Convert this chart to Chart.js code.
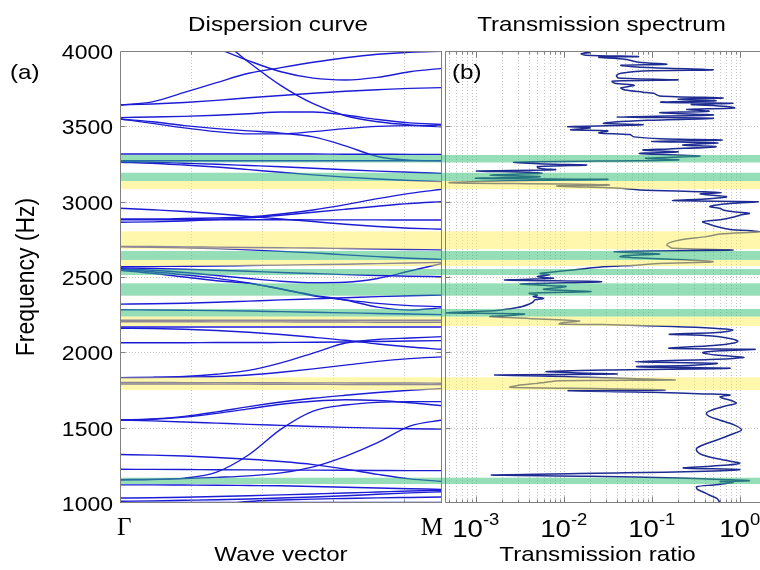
<!DOCTYPE html>
<html>
<head>
<meta charset="utf-8">
<script src="https://cdn.jsdelivr.net/npm/chart.js@4.4.1/dist/chart.umd.min.js"></script>
<style>
  html, body { margin: 0; padding: 0; background: #fff; overflow: hidden; }
  #wrap { position: relative; width: 760px; height: 570px; }
  #disp { position: absolute; left: 0; top: 0; }
  #trans { position: absolute; left: 443px; top: 0; }
</style>
</head>
<body>
<div id="wrap">
  <canvas id="disp" width="443" height="570"></canvas>
  <canvas id="trans" width="317" height="570"></canvas>
</div>
<script>
// ---- frequency axis (shared) ----
const freqTicks = [1000, 1500, 2000, 2500, 3000, 3500, 4000];

// ---- band gaps (Hz) ----
const greenBands = [[3260, 3310], [3137, 3192], [2613, 2673], [2513, 2553], [2376, 2458], [2237, 2288], [1126, 1168]];
const yellowBands = [[3084, 3137], [2684, 2803], [2573, 2613], [2175, 2237], [1750, 1834]];

// ---- dispersion curve: wave vector samples from Γ (0) to M (1) ----
const waveVector = [0, 0.1, 0.2, 0.3, 0.4, 0.5, 0.6, 0.7, 0.8, 0.9, 1];
const waveVectorLabels = ['Γ', 'M'];

// frequency of each branch (Hz) at the wave vector samples; null = branch not yet present
const dispersionBranches = [
  [null, null, null, 4100, 3925, 3770, 3650, 3570, 3530, 3510, 3503],
  [null, null, null, 4020, 3935, 3862, 3820, 3808, 3825, 3862, 3885],
  [3642, 3662, 3725, 3790, 3852, 3890, 3925, 3955, 3978, 3992, 3998],
  [3642, 3648, 3658, 3672, 3690, 3705, 3720, 3733, 3743, 3752, 3757],
  [3558, 3562, 3566, 3574, 3584, 3595, 3595, 3575, 3545, 3523, 3513],
  [3549, 3520, 3490, 3465, 3450, 3450, 3465, 3485, 3500, 3505, 3497],
  [3549, 3530, 3505, 3485, 3470, 3455, 3430, 3370, 3300, 3276, 3272],
  [3316, 3316, 3316, 3316, 3316, 3316, 3316, 3315, 3315, 3314, 3314],
  [3272, 3272, 3272, 3272, 3272, 3272, 3272, 3272, 3272, 3272, 3272],
  [3268, 3262, 3255, 3248, 3240, 3232, 3222, 3212, 3203, 3195, 3188],
  [3262, 3255, 3243, 3230, 3213, 3195, 3178, 3163, 3150, 3140, 3133],
  [2956, 2946, 2935, 2920, 2902, 2885, 2868, 2850, 2835, 2824, 2817],
  [2885, 2885, 2888, 2892, 2898, 2918, 2945, 2980, 3020, 3055, 3082],
  [2863, 2866, 2872, 2882, 2893, 2910, 2930, 2950, 2970, 2988, 3000],
  [2880, 2880, 2880, 2880, 2880, 2880, 2879, 2879, 2879, 2878, 2878],
  [2703, 2702, 2700, 2698, 2696, 2694, 2692, 2689, 2686, 2683, 2680],
  [2700, 2697, 2693, 2688, 2680, 2670, 2660, 2647, 2635, 2624, 2617],
  [2568, 2569, 2571, 2573, 2576, 2579, 2582, 2585, 2589, 2593, 2597],
  [2560, 2556, 2551, 2545, 2538, 2530, 2523, 2516, 2510, 2505, 2502],
  [2555, 2545, 2530, 2510, 2490, 2472, 2462, 2465, 2490, 2540, 2590],
  [2550, 2535, 2515, 2491, 2460, 2420, 2375, 2348, 2325, 2310, 2303],
  [2545, 2525, 2500, 2475, 2458, 2420, 2380, 2347, 2300, 2280, 2295],
  [2320, 2322, 2326, 2332, 2340, 2348, 2355, 2362, 2370, 2376, 2380],
  [2283, 2281, 2279, 2277, 2274, 2270, 2266, 2262, 2258, 2254, 2250],
  [2213, 2213, 2213, 2213, 2213, 2213, 2213, 2213, 2213, 2213, 2213],
  [2203, 2203, 2203, 2202, 2202, 2202, 2201, 2201, 2200, 2200, 2200],
  [2168, 2168, 2168, 2168, 2168, 2168, 2168, 2168, 2168, 2168, 2168],
  [2160, 2158, 2153, 2145, 2133, 2118, 2100, 2080, 2055, 2035, 2020],
  [2064, 2064, 2064, 2065, 2065, 2066, 2067, 2069, 2072, 2075, 2078],
  [1832, 1834, 1840, 1855, 1880, 1930, 1995, 2062, 2085, 2095, 2104],
  [1832, 1833, 1836, 1840, 1850, 1868, 1890, 1915, 1940, 1958, 1970],
  [1800, 1800, 1799, 1799, 1798, 1798, 1797, 1797, 1796, 1796, 1795],
  [1790, 1790, 1790, 1789, 1789, 1788, 1788, 1787, 1787, 1786, 1786],
  [1551, 1558, 1575, 1605, 1640, 1670, 1695, 1715, 1733, 1748, 1760],
  [1551, 1556, 1570, 1595, 1625, 1655, 1675, 1685, 1680, 1665, 1645],
  [1551, 1545, 1538, 1530, 1522, 1515, 1508, 1502, 1497, 1493, 1490],
  [1153, 1156, 1165, 1205, 1320, 1490, 1610, 1650, 1668, 1673, 1673],
  [1155, 1157, 1162, 1170, 1180, 1200, 1240, 1310, 1400, 1510, 1551],
  [1322, 1318, 1312, 1302, 1290, 1275, 1255, 1225, 1190, 1160, 1143],
  [1224, 1223, 1222, 1221, 1220, 1219, 1218, 1217, 1216, 1215, 1215],
  [1120, 1120, 1119, 1118, 1116, 1114, 1110, 1105, 1100, 1095, 1090],
  [1033, 1035, 1038, 1043, 1048, 1054, 1060, 1066, 1073, 1080, 1085],
  [1012, 1014, 1018, 1022, 1027, 1033, 1040, 1048, 1058, 1067, 1075],
  [null, null, null, 985, 1010, 1020, 1026, 1030, 1034, 1037, 1040],
  [1003, 1003, 1003, 1003, 1003, 1003, 1003, 1003, 1003, 1003, 1003]
];

// ---- transmission spectrum: [frequency (Hz), transmission ratio] ----
const spectrumPoints = [
  [3998, 0.0166], [3990, 0.020], [3982, 0.0158], [3972, 0.0178], [3963, 0.0708], [3958, 0.0251],
  [3945, 0.050], [3925, 0.0708], [3912, 0.148], [3905, 0.0447], [3890, 0.0891], [3875, 0.50],
  [3868, 0.0794], [3852, 0.0447], [3838, 0.0398], [3820, 0.0417], [3808, 0.20], [3800, 0.0355],
  [3786, 0.038], [3772, 0.0631], [3755, 0.0447], [3741, 0.050], [3727, 0.0794], [3719, 0.105],
  [3702, 0.123], [3688, 0.646], [3680, 0.20], [3670, 0.537], [3660, 0.126], [3653, 0.832],
  [3645, 0.282], [3632, 0.708], [3621, 0.871], [3612, 0.251], [3600, 0.447], [3590, 0.123],
  [3575, 0.50], [3562, 0.0398], [3553, 0.50], [3540, 0.0891], [3520, 0.0282], [3510, 0.0794],
  [3498, 0.0112], [3490, 0.020], [3477, 0.012], [3470, 0.0316], [3456, 0.0251], [3445, 0.0562],
  [3430, 0.0631], [3418, 0.126], [3409, 0.631], [3400, 0.10], [3390, 0.562], [3376, 0.224],
  [3365, 0.537], [3350, 0.158], [3343, 0.0794], [3330, 0.20], [3320, 0.0724], [3303, 0.355],
  [3288, 0.0851], [3277, 0.20], [3262, 0.00275], [3250, 0.006], [3243, 0.0182], [3232, 0.005],
  [3221, 0.00537], [3212, 0.008], [3204, 0.00102], [3195, 0.004], [3188, 0.00562], [3177, 0.00145],
  [3166, 0.00537], [3155, 0.001], [3148, 0.0316], [3139, 0.00224], [3126, 0.0005], [3118, 0.010],
  [3111, 0.0331], [3104, 0.00832], [3089, 0.0437], [3078, 0.0724], [3066, 0.355], [3060, 0.617],
  [3051, 0.355], [3033, 0.708], [3020, 0.45], [3007, 0.174], [3000, 1.62], [2989, 0.832],
  [2978, 0.55], [2967, 0.457], [2955, 0.60], [2945, 0.646], [2932, 0.90], [2923, 1.29],
  [2910, 1.0], [2896, 0.832], [2880, 0.60], [2867, 0.38], [2850, 0.45], [2830, 0.589],
  [2816, 0.776], [2801, 1.70], [2785, 0.60], [2768, 0.417], [2746, 0.209], [2728, 0.16],
  [2713, 0.148], [2700, 0.16], [2690, 0.174], [2679, 0.832], [2668, 0.038], [2653, 0.123],
  [2642, 0.05], [2635, 0.0437], [2624, 0.0871], [2602, 0.50], [2590, 0.12], [2580, 0.0724],
  [2565, 0.025], [2547, 0.0129], [2535, 0.008], [2524, 0.00537], [2514, 0.00692], [2502, 0.005],
  [2491, 0.00759], [2480, 0.00214], [2469, 0.0269], [2454, 0.00324], [2445, 0.006], [2436, 0.0107],
  [2418, 0.00589], [2403, 0.0204], [2392, 0.00407], [2380, 0.005], [2370, 0.0045], [2358, 0.00589],
  [2348, 0.00468], [2335, 0.0045], [2321, 0.00407], [2303, 0.00331], [2290, 0.0025], [2277, 0.00174],
  [2263, 0.000447], [2255, 0.00355], [2245, 0.0025], [2237, 0.00145], [2225, 0.004], [2208, 0.0151],
  [2198, 0.010], [2188, 0.00891], [2184, 0.0275], [2171, 0.174], [2160, 0.50], [2149, 0.832],
  [2140, 0.75], [2130, 0.50], [2120, 0.158], [2112, 0.40], [2104, 0.589], [2090, 0.80],
  [2075, 0.95], [2064, 0.891], [2045, 0.50], [2027, 0.158], [2020, 1.48], [2010, 0.60],
  [1998, 0.38], [1982, 0.537], [1967, 1.12], [1954, 0.55], [1938, 0.0646], [1927, 0.55],
  [1915, 0.30], [1905, 0.0676], [1894, 0.776], [1883, 0.0302], [1872, 0.00631], [1862, 0.020],
  [1856, 0.0398], [1850, 0.00166], [1840, 0.010], [1834, 0.0182], [1821, 0.105], [1816, 0.182],
  [1812, 0.00891], [1800, 0.006], [1794, 0.00501], [1780, 0.003], [1768, 0.00245], [1758, 0.030],
  [1750, 0.141], [1746, 0.0112], [1735, 0.10], [1724, 0.40], [1717, 0.776], [1705, 0.60],
  [1695, 0.646], [1680, 0.80], [1662, 0.912], [1645, 0.70], [1628, 0.55], [1610, 0.45],
  [1595, 0.417], [1575, 0.45], [1551, 0.589], [1520, 0.85], [1485, 1.05], [1455, 0.80],
  [1418, 0.55], [1390, 0.40], [1363, 0.324], [1340, 0.33], [1319, 0.38], [1290, 0.60],
  [1263, 1.0], [1245, 0.50], [1232, 0.229], [1222, 1.0], [1210, 0.40], [1200, 0.05],
  [1186, 0.00151], [1178, 0.020], [1166, 0.20], [1155, 0.70], [1148, 1.29], [1142, 0.60],
  [1138, 0.85], [1130, 0.70], [1120, 0.50], [1108, 0.324], [1090, 0.33], [1075, 0.38],
  [1053, 0.45], [1030, 0.55], [1009, 0.589], [1000, 0.62]
];
const ratioDecades = [0.001, 0.01, 0.1, 1];
const ratioMin = 0.000447, ratioMax = 1.70;

// ---- styling ----
const SANS = "'Liberation Sans', Arial, sans-serif";
const SERIF = "'Liberation Serif', 'Times New Roman', serif";
const BRANCH_BLUE = 'rgb(28,28,214)';
const SPECTRUM_BLUE = 'rgb(30,44,145)';
const GREEN = 'rgba(46,190,112,0.5)';
const YELLOW = 'rgba(255,242,90,0.5)';
const FRAME = '#808080';
const GRID = '#c4c4c4';
const TEXT_STRETCH = 1.15;   // figure lettering is set slightly wide
const kGrid = [0.2205, 0.441, 0.6615, 0.882];

Chart.defaults.color = '#000';
Chart.defaults.font.family = SANS;

// minor/major positions on the log axis
const logGrid = [];
for (let e = -4; e <= 0; e++) {
  for (let d = 1; d <= 9; d++) {
    const v = d * Math.pow(10, e);
    if (v > ratioMin && v < ratioMax) logGrid.push({ v, major: d === 1 });
  }
}

// draw one wide-set label; (x, y) is the anchor, rotation in radians
function wideText(ctx, text, x, y, size, align, opt = {}) {
  ctx.save();
  ctx.fillStyle = '#000';
  ctx.font = size + 'px ' + (opt.family || SANS);
  ctx.textAlign = align;
  ctx.textBaseline = opt.baseline || 'alphabetic';
  ctx.translate(x, y);
  ctx.scale(opt.stretch || TEXT_STRETCH, 1);
  if (opt.rotate) ctx.rotate(opt.rotate);
  ctx.fillText(text, 0, 0);
  ctx.restore();
}

// semi-transparent band-gap strips over the curves
const bandsPlugin = {
  id: 'bands',
  afterDatasetsDraw(chart, args, opts) {
    const { ctx, chartArea: a, scales: { y } } = chart;
    const left = opts.fromLeftEdge ? 0 : a.left;
    const right = opts.toRightEdge ? chart.width : a.right;
    ctx.save();
    const paint = (bands, color) => {
      ctx.fillStyle = color;
      for (const [lo, hi] of bands) {
        const top = y.getPixelForValue(hi), bottom = y.getPixelForValue(lo);
        ctx.fillRect(left, top, right - left, bottom - top);
      }
    };
    paint(greenBands, GREEN);
    paint(yellowBands, YELLOW);
    ctx.restore();
  }
};

// dotted grid
const gridPlugin = {
  id: 'dottedGrid',
  beforeDatasetsDraw(chart, args, opts) {
    const { ctx, chartArea: a, scales: { x, y } } = chart;
    ctx.save();
    ctx.lineWidth = 1;
    ctx.setLineDash([1, 2]);
    ctx.strokeStyle = GRID;
    ctx.beginPath();
    for (const f of freqTicks) {
      if (f <= freqTicks[0] || f >= freqTicks[freqTicks.length - 1]) continue;
      const py = Math.round(y.getPixelForValue(f)) + 0.5;
      ctx.moveTo(a.left, py); ctx.lineTo(a.right, py);
    }
    for (const t of opts.lines) {
      const px = Math.round(x.getPixelForValue(t.v)) + 0.5;
      ctx.moveTo(px, a.top); ctx.lineTo(px, a.bottom);
    }
    ctx.stroke();
    ctx.restore();
  }
};

// axis frame with inward tick marks
const framePlugin = {
  id: 'frame',
  afterDraw(chart, args, opts) {
    const { ctx, chartArea: a, scales: { x, y } } = chart;
    const L = a.left + 0.5, R = a.right - 0.5, T = a.top + 0.5, B = a.bottom - 0.5;
    const edge = opts.closeRight ? R : chart.width;
    ctx.save();
    ctx.strokeStyle = FRAME;
    ctx.lineWidth = 1;
    ctx.beginPath();
    ctx.moveTo(L, T); ctx.lineTo(L, B);
    ctx.moveTo(L, T); ctx.lineTo(edge, T);
    ctx.moveTo(L, B); ctx.lineTo(edge, B);
    if (opts.closeRight) { ctx.moveTo(R, T); ctx.lineTo(R, B); }
    for (const f of freqTicks) {
      if (f <= freqTicks[0] || f >= freqTicks[freqTicks.length - 1]) continue;
      const py = Math.round(y.getPixelForValue(f)) + 0.5;
      ctx.moveTo(L, py); ctx.lineTo(L + 5, py);
      if (opts.closeRight) { ctx.moveTo(R, py); ctx.lineTo(R - 5, py); }
    }
    for (const t of opts.ticks) {
      const px = Math.round(x.getPixelForValue(t.v)) + 0.5;
      const len = t.major ? 6 : 3;
      ctx.moveTo(px, T); ctx.lineTo(px, T + len);
      ctx.moveTo(px, B); ctx.lineTo(px, B - len);
    }
    ctx.stroke();
    ctx.restore();
  }
};

// panel title, panel letter and x-axis title
const panelTextPlugin = {
  id: 'panelText',
  afterDraw(chart, args, opts) {
    const { ctx, chartArea: a } = chart;
    const cx = (a.left + a.right) / 2;
    wideText(ctx, opts.title, cx + (opts.titleShift || 0), 31, 21, 'center');
    wideText(ctx, opts.letter, opts.letterX, 79, 21, 'left');
    wideText(ctx, opts.xTitle, cx + (opts.xTitleShift || 0), 561, 21, 'center');
  }
};

// frequency labels, axis title, and Γ / M on the dispersion panel
const dispersionAxisPlugin = {
  id: 'dispersionAxis',
  afterDraw(chart) {
    const { ctx, chartArea: a, scales: { x, y } } = chart;
    for (const f of freqTicks) {
      wideText(ctx, String(f), a.left - 7, y.getPixelForValue(f) + 8, 20, 'right');
    }
    wideText(ctx, 'Frequency (Hz)', 27, (a.top + a.bottom) / 2, 23, 'center',
      { rotate: -Math.PI / 2, baseline: 'middle' });
    wideText(ctx, waveVectorLabels[0], x.getPixelForValue(x.min) - 3, 535, 25, 'left',
      { family: SERIF, stretch: 1 });
    wideText(ctx, waveVectorLabels[1], x.getPixelForValue(x.max) + 1, 535, 25, 'right',
      { family: SERIF, stretch: 1 });
  }
};

// power-of-ten labels on the log axis
const decadeLabelPlugin = {
  id: 'decadeLabels',
  afterDraw(chart) {
    const { ctx, scales: { x } } = chart;
    for (const v of ratioDecades) {
      const px = x.getPixelForValue(v);
      const exp = String(Math.round(Math.log10(v)));
      ctx.save();
      ctx.font = '24px ' + SANS;
      const wb = ctx.measureText('10').width * TEXT_STRETCH;
      ctx.font = '16px ' + SANS;
      const we = ctx.measureText(exp).width * TEXT_STRETCH;
      ctx.restore();
      const start = px - (wb + we) / 2;
      wideText(ctx, '10', start, 537, 24, 'left');
      wideText(ctx, exp, start + wb, 525, 16, 'left');
    }
  }
};

// ---- left panel: dispersion curve ----
new Chart(document.getElementById('disp'), {
  type: 'line',
  data: {
    datasets: dispersionBranches.map(freqs => ({
      data: freqs.map((f, i) => ({ x: waveVector[i], y: f })).filter(p => p.y !== null),
      borderColor: BRANCH_BLUE,
      borderWidth: 1.4,
      pointRadius: 0,
      fill: false,
      cubicInterpolationMode: 'monotone'
    }))
  },
  options: {
    responsive: false,
    animation: false,
    layout: { autoPadding: false, padding: { top: 51, left: 0, right: 1, bottom: 0 } },
    plugins: {
      legend: { display: false },
      tooltip: { enabled: false },
      bands: { fromLeftEdge: false, toRightEdge: true },
      dottedGrid: { lines: kGrid.map(v => ({ v })) },
      frame: { closeRight: true, ticks: kGrid.map(v => ({ v, major: false })) },
      panelText: { title: 'Dispersion curve', letter: '(a)', letterX: 10, titleShift: -3,
                   xTitle: 'Wave vector', xTitleShift: 0 }
    },
    scales: {
      x: {
        type: 'linear', min: 0, max: 1,
        grid: { display: false, drawTicks: false },
        border: { display: false },
        afterFit(s) { s.height = 67; },
        ticks: { display: false }
      },
      y: {
        type: 'linear', min: 1000, max: 4000,
        grid: { display: false, drawTicks: false },
        border: { display: false },
        afterFit(s) { s.width = 120; },
        ticks: { display: false }
      }
    }
  },
  plugins: [gridPlugin, bandsPlugin, framePlugin, panelTextPlugin, dispersionAxisPlugin]
});

// ---- right panel: transmission spectrum ----
new Chart(document.getElementById('trans'), {
  type: 'scatter',
  data: {
    datasets: [{
      data: spectrumPoints.map(([f, t]) => ({ x: t, y: f })),
      showLine: true,
      borderColor: SPECTRUM_BLUE,
      borderWidth: 1.5,
      pointRadius: 0,
      tension: 0.3,
      fill: false
    }]
  },
  options: {
    responsive: false,
    animation: false,
    layout: { autoPadding: false, padding: { top: 51, left: 0, right: 0, bottom: 0 } },
    plugins: {
      legend: { display: false },
      tooltip: { enabled: false },
      bands: { fromLeftEdge: true, toRightEdge: true },
      dottedGrid: { lines: logGrid },
      frame: { closeRight: false, ticks: logGrid },
      panelText: { title: 'Transmission spectrum', letter: '(b)', letterX: 9, titleShift: -1,
                   xTitle: 'Transmission ratio', xTitleShift: -5 }
    },
    scales: {
      x: {
        type: 'logarithmic', min: ratioMin, max: ratioMax, bounds: 'data',
        grid: { display: false, drawTicks: false },
        border: { display: false },
        afterFit(s) { s.height = 67; },
        ticks: { display: false }
      },
      y: {
        type: 'linear', min: 1000, max: 4000,
        grid: { display: false, drawTicks: false },
        border: { display: false },
        afterFit(s) { s.width = 2; },
        ticks: { display: false, stepSize: 500 }
      }
    }
  },
  plugins: [gridPlugin, bandsPlugin, framePlugin, panelTextPlugin, decadeLabelPlugin]
});
</script>
</body>
</html>
